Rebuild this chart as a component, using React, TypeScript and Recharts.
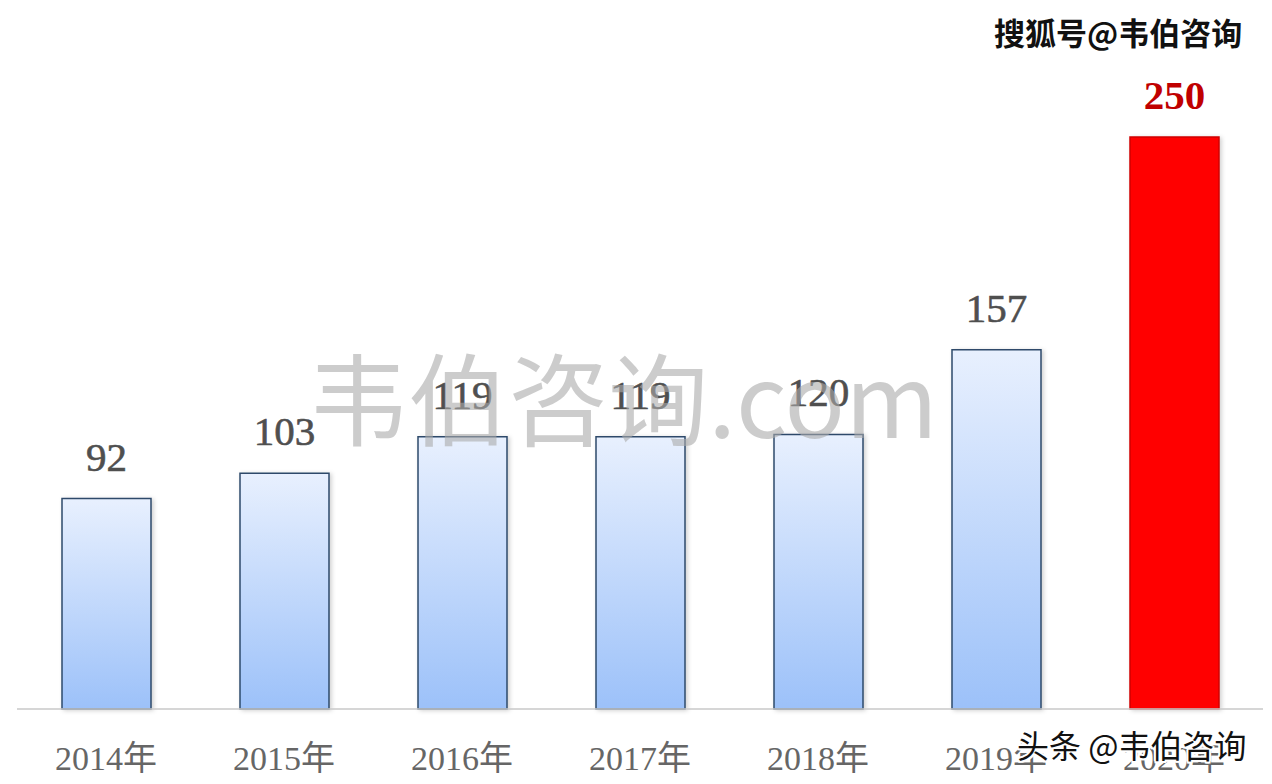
import React from 'react';
import { BarChart, Bar, XAxis, YAxis, LabelList, Cell } from 'recharts';

const years = ['2014年', '2015年', '2016年', '2017年', '2018年', '2019年', '2020年'];
const values = [92, 103, 119, 119, 120, 157, 250];
const highlight = [false, false, false, false, false, false, true];

const data = years.map((year, i) => ({ year, value: values[i], hot: highlight[i] }));

const SERIF = "'Liberation Serif', 'DejaVu Serif', 'Noto Sans CJK SC', serif";
const SANS = "'Noto Sans CJK SC', 'Noto Sans', sans-serif";

const outline =
  '2px 0 0 #fff, -2px 0 0 #fff, 0 2px 0 #fff, 0 -2px 0 #fff, 1.5px 1.5px 0 #fff, -1.5px -1.5px 0 #fff, 1.5px -1.5px 0 #fff, -1.5px 1.5px 0 #fff';

const ValueLabel = (props: any) => {
  const { x, y, width, value, index } = props;
  const hot = highlight[index];
  return (
    <text
      x={x + width / 2}
      y={y - 28}
      textAnchor="middle"
      fontFamily={SERIF}
      fontSize={41}
      fontWeight={hot ? 700 : 400}
      fill={hot ? '#c00000' : '#4f4f4f'}
      stroke={hot ? 'none' : '#4f4f4f'}
      strokeWidth={0.6}
    >
      {value}
    </text>
  );
};

export default function App() {
  return (
    <div style={{ position: 'absolute', left: 0, top: 0, width: 1272, height: 784, background: '#fff', overflow: 'hidden' }}>
      <BarChart width={1272} height={784} data={data} margin={{ top: 137, right: 9, left: 17, bottom: 15 }}>
        <defs>
          <linearGradient id="blueFill" x1="0" y1="0" x2="0" y2="1">
            <stop offset="0%" stopColor="#e8f0fe" />
            <stop offset="100%" stopColor="#9cc1f9" />
          </linearGradient>
          <filter id="barShadow" x="-10%" y="-10%" width="130%" height="120%">
            <feDropShadow dx="2" dy="1" stdDeviation="2" floodColor="#000" floodOpacity="0.18" />
          </filter>
        </defs>
        <XAxis
          dataKey="year"
          height={60}
          tickSize={0}
          tickMargin={37}
          axisLine={{ stroke: '#c8c8c8', strokeWidth: 1.5 }}
          tick={{ fontFamily: SERIF, fontSize: 34, fill: '#666' }}
          interval={0}
        />
        <YAxis hide domain={[0, 250]} />
        <Bar dataKey="value" barSize={89} isAnimationActive={false} filter="url(#barShadow)">
          {data.map((d, i) => (
            <Cell
              key={`c-${i}`}
              fill={d.hot ? '#ff0000' : 'url(#blueFill)'}
              stroke={d.hot ? '#d00000' : '#2e4a6b'}
              strokeWidth={1.5}
            />
          ))}
          <LabelList dataKey="value" content={ValueLabel} />
        </Bar>
      </BarChart>
      <div
        style={{
          position: 'absolute',
          left: 0,
          width: 1272,
          top: 335,
          textAlign: 'center',
          paddingRight: 26,
          boxSizing: 'border-box',
          fontFamily: SANS,
          fontSize: 100,
          lineHeight: '120px',
          color: 'rgba(170,170,170,0.6)',
          pointerEvents: 'none',
        }}
      >
        韦伯咨询.com
      </div>
      <div
        style={{
          position: 'absolute',
          left: 994,
          top: 11,
          fontFamily: SANS,
          fontWeight: 700,
          fontSize: 31,
          lineHeight: '42px',
          color: '#111',
          textShadow: outline,
        }}
      >
        搜狐号@韦伯咨询
      </div>
      <div
        style={{
          position: 'absolute',
          left: 1017,
          top: 723,
          fontFamily: SANS,
          fontSize: 32,
          lineHeight: '42px',
          color: '#111',
          textShadow: outline,
        }}
      >
        头条 @韦伯咨询
      </div>
    </div>
  );
}
